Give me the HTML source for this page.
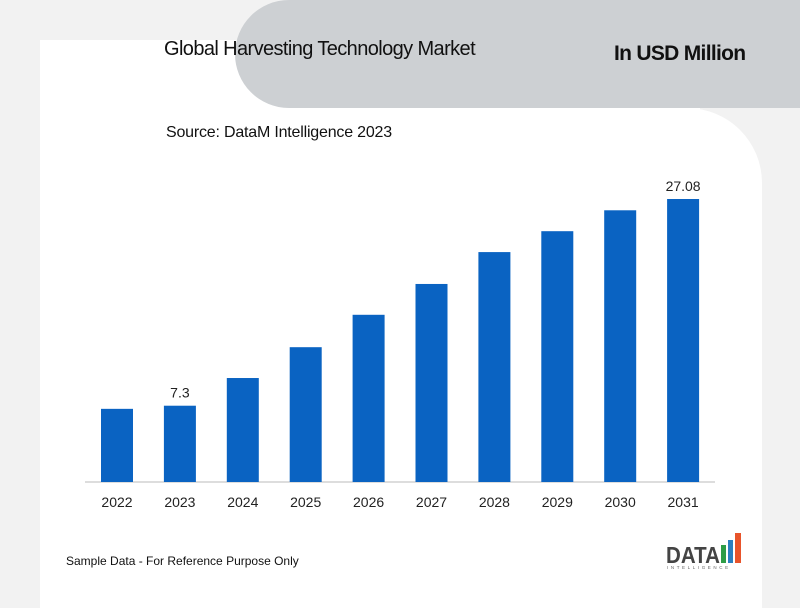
<!DOCTYPE html>
<html><head><meta charset="utf-8"><style>
body{margin:0;width:800px;height:599px;background:#f2f2f2;position:relative;overflow:hidden;font-family:"Liberation Sans",sans-serif}
.card{position:absolute;left:40px;top:40px;width:660px;height:100px;background:#fff}
.card2{position:absolute;left:40px;top:108px;width:722px;height:500px;background:#fff;border-top-right-radius:75px}
.blob{position:absolute;left:235px;top:0;width:600px;height:108px;background:#cdd0d3;border-bottom-left-radius:70px;border-top-left-radius:70px}
.t{position:absolute;white-space:nowrap;color:#111}
</style></head><body>
<div class="card"></div>
<div class="card2"></div>
<div class="blob"></div>
<div class="t" style="left:164px;top:38px;font-size:20px;letter-spacing:-0.6px">Global Harvesting Technology Market</div>
<div class="t" style="left:614px;top:42px;font-size:21px;font-weight:bold;letter-spacing:-0.7px">In USD Million</div>
<div class="t" style="left:166px;top:124px;font-size:16px;letter-spacing:-0.2px">Source: DataM Intelligence 2023</div>
<div class="t" style="left:66px;top:554px;font-size:12px">Sample Data - For Reference Purpose Only</div>
<svg width="800" height="599" style="position:absolute;left:0;top:0" id="chart">
<line x1="85" y1="482" x2="715" y2="482" stroke="#bbb"/>
<g>
<text x="666" y="563" font-family="Liberation Sans" font-weight="bold" font-size="23" fill="#444" textLength="54" lengthAdjust="spacingAndGlyphs">DATA</text>
<rect x="721" y="545" width="5" height="18" fill="#2e9d47"/><rect x="728" y="540" width="5" height="23" fill="#2a7fc0"/><rect x="735" y="533" width="6" height="30" fill="#e8542b"/>
<text x="667" y="569" font-size="4.5" fill="#666" letter-spacing="2.6">INTELLIGENCE</text>
</g>
</svg>
<script>
const years=["2022","2023","2024","2025","2026","2027","2028","2029","2030","2031"];
const values=[7.0,7.3,9.95,12.9,16.0,18.95,22.0,24.0,26.0,27.08];
const labels=["","7.3","","","","","","","","27.08"];
const svg=document.getElementById('chart');
const NS='http://www.w3.org/2000/svg';
const x=i=>117+i*62.9;
const y=v=>482-v*(283/27.08);
years.forEach((yr,i)=>{
 const r=document.createElementNS(NS,'rect');
 r.setAttribute('x',x(i)-16);r.setAttribute('width',32);
 r.setAttribute('y',y(values[i]));r.setAttribute('height',482-y(values[i]));
 r.setAttribute('fill','#0a63c2');
 
 
 svg.appendChild(r);
 const t=document.createElementNS(NS,'text');
 t.setAttribute('x',x(i));t.setAttribute('y',507);t.setAttribute('text-anchor','middle');
 t.setAttribute('font-size','14');t.setAttribute('fill','#222');t.textContent=yr;
 
 
 svg.appendChild(t);
 if(labels[i]){
  const l=document.createElementNS(NS,'text');
  l.setAttribute('x',x(i));l.setAttribute('y',y(values[i])-8);l.setAttribute('text-anchor','middle');
  l.setAttribute('font-size','14');l.setAttribute('fill','#222');l.textContent=labels[i];
  
  
  svg.appendChild(l);
 }
});
</script>
</body></html>
